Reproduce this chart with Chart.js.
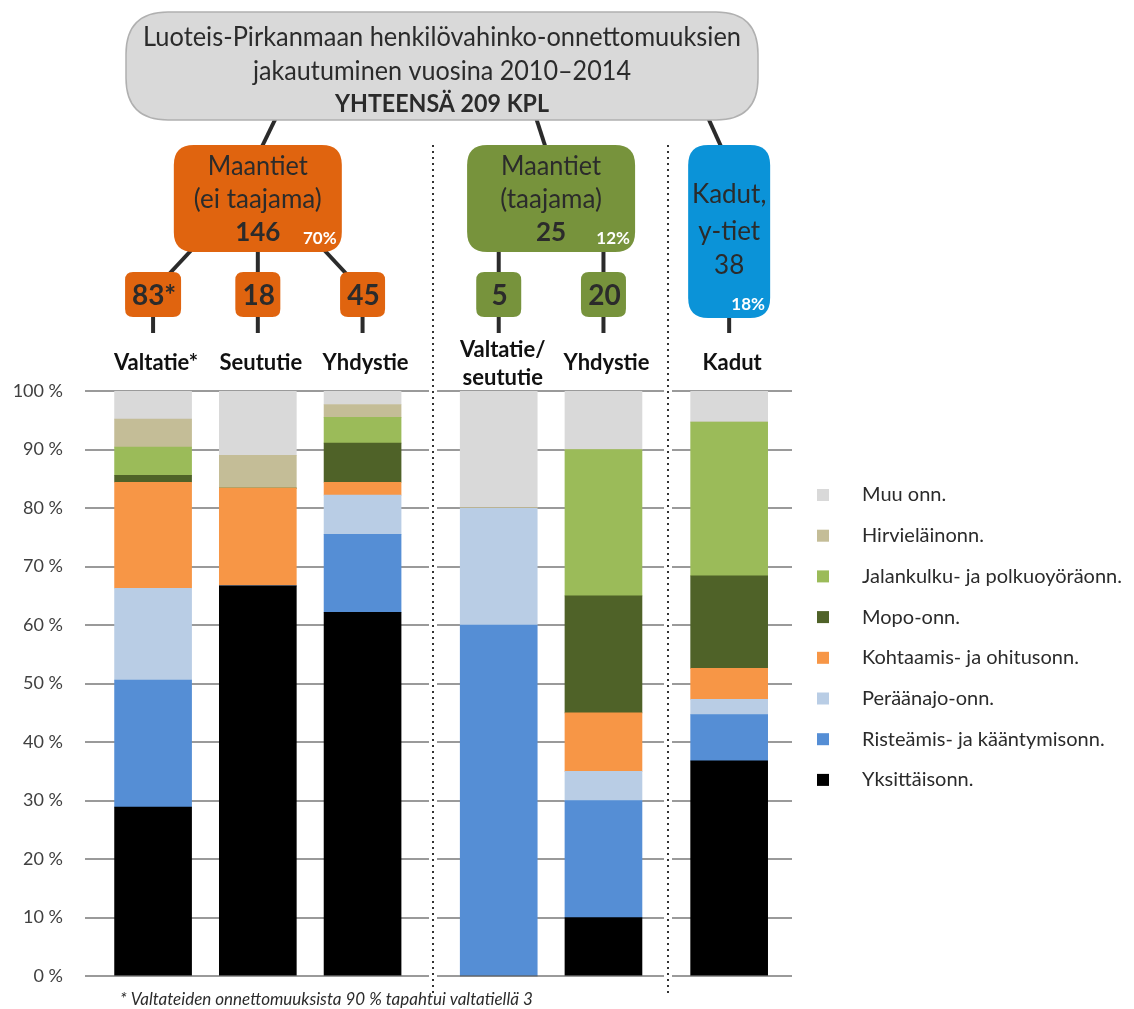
<!DOCTYPE html>
<html>
<head>
<meta charset="utf-8">
<script src="https://cdn.jsdelivr.net/npm/chart.js"></script>
<style>
  html, body { margin: 0; padding: 0; background: #fff; }
  #wrap { width: 1134px; height: 1009px; }
</style>
</head>
<body>
<div id="wrap"><canvas id="myChart" width="1134" height="1009"></canvas></div>
<script>
// road types (bars) and the group each belongs to
const roads = ["Valtatie*", "Seututie", "Yhdystie", "Valtatie/\nseututie", "Yhdystie", "Kadut"];
const roadGroup = [0, 0, 0, 1, 1, 2];
const roadCounts = ["83*", "18", "45", "5", "20", null];

const groupNames = [["Maantiet", "(ei taajama)"], ["Maantiet", "(taajama)"], ["Kadut,", "y-tiet"]];
const groupTotals = ["146", "25", "38"];
const groupShares = ["70%", "12%", "18%"];

// share of accidents, % (bottom of stack first)
const yksittais  = [28.9, 66.7, 62.2, 0, 10, 36.8];
const risteamis  = [21.7, 0, 13.3, 60, 20, 7.9];
const peraanajo  = [15.7, 0, 6.7, 20, 5, 2.6];
const kohtaamis  = [18.1, 16.7, 2.2, 0, 10, 5.3];
const mopo       = [1.2, 0, 6.7, 0, 20, 15.8];
const jalankulku = [4.8, 0, 4.4, 0, 25, 26.3];
const hirvi      = [4.8, 5.6, 2.2, 0, 0, 0];
const muu        = [4.8, 11.0, 2.3, 20, 10, 5.3];

const yTicks = [0, 10, 20, 30, 40, 50, 60, 70, 80, 90, 100];

const title = ["Luoteis-Pirkanmaan henkilövahinko-onnettomuuksien", "jakautuminen vuosina 2010–2014", "YHTEENSÄ 209 KPL"];
const footnote = "* Valtateiden onnettomuuksista 90 % tapahtui valtatiellä 3";

// extra space in front of each group, in bar slots
const GROUP_SHIFT = [0, 0.3, 0.5];
const groupColors = ["#E0640F", "#77933C", "#0B93D8"];
const FONT = "Lato, 'Open Sans', sans-serif";
const TXT = "#2b2b2b";

const series = [
  { label: "Yksittäisonn.", data: yksittais, color: "#000000" },
  { label: "Risteämis- ja kääntymisonn.", data: risteamis, color: "#558ED5" },
  { label: "Peräänajo-onn.", data: peraanajo, color: "#B9CDE5" },
  { label: "Kohtaamis- ja ohitusonn.", data: kohtaamis, color: "#F79646" },
  { label: "Mopo-onn.", data: mopo, color: "#4F6228" },
  { label: "Jalankulku- ja polkuoyöräonn.", data: jalankulku, color: "#9BBB59" },
  { label: "Hirvieläinonn.", data: hirvi, color: "#C4BD97" },
  { label: "Muu onn.", data: muu, color: "#D9D9D9" },
];

const slot = roads.map((r, i) => i + GROUP_SHIFT[roadGroup[i]]);

const roundRect = (ctx, x, y, w, h, r) => {
  ctx.beginPath();
  ctx.moveTo(x + r, y);
  ctx.lineTo(x + w - r, y);
  ctx.quadraticCurveTo(x + w, y, x + w, y + r);
  ctx.lineTo(x + w, y + h - r);
  ctx.quadraticCurveTo(x + w, y + h, x + w - r, y + h);
  ctx.lineTo(x + r, y + h);
  ctx.quadraticCurveTo(x, y + h, x, y + h - r);
  ctx.lineTo(x, y + r);
  ctx.quadraticCurveTo(x, y, x + r, y);
  ctx.closePath();
};

const text = (ctx, s, x, y, font, color, align, maxW) => {
  ctx.font = font;
  ctx.fillStyle = color;
  ctx.textAlign = align || "center";
  ctx.textBaseline = "middle";
  if (maxW) ctx.fillText(s, x, y, maxW);
  else ctx.fillText(s, x, y);
};

const line = (ctx, x1, y1, x2, y2) => {
  ctx.beginPath();
  ctx.moveTo(x1, y1);
  ctx.lineTo(x2, y2);
  ctx.stroke();
};

const treePlugin = {
  id: "tree",
  afterDraw(chart) {
    const ctx = chart.ctx;
    const xs = chart.scales.x;
    const area = chart.chartArea;
    const cx = slot.map((s) => xs.getPixelForValue(s));
    ctx.save();

    // dotted separators between groups
    for (let i = 1; i < roads.length; i++) {
      if (roadGroup[i] === roadGroup[i - 1]) continue;
      const x = Math.round((cx[i] + cx[i - 1]) / 2) + 2;
      ctx.fillStyle = "#fff";
      ctx.fillRect(x - 4, area.top - 2, 8, area.bottom - area.top + 4);
      ctx.strokeStyle = "#333";
      ctx.lineWidth = 2;
      ctx.setLineDash([2, 4]);
      line(ctx, x, 145, x, 994);
      ctx.setLineDash([]);
    }

    // group boxes
    const boxTop = 145;
    const groups = groupNames.map((g, gi) => {
      const idx = roads.map((r, i) => i).filter((i) => roadGroup[i] === gi);
      const mid = (cx[idx[0]] + cx[idx[idx.length - 1]]) / 2;
      const single = idx.length === 1;
      const w = single ? 82 : 168;
      const h = single ? 173 : 107;
      return { idx, mid, x: mid - w / 2, w, h, single };
    });

    ctx.strokeStyle = "#2b2b2b";
    ctx.lineWidth = 4;
    ctx.lineCap = "butt";
    // lines from the title box
    const topOff = [[18, 3], [-15, -5], [-21, -7]];
    groups.forEach((g, gi) => {
      line(ctx, g.mid + topOff[gi][0], 118, g.mid + topOff[gi][1], boxTop + 4);
    });

    // lines from group boxes to road boxes and to road labels
    groups.forEach((g) => {
      const bottom = boxTop + g.h;
      g.idx.forEach((i) => {
        const sx = cx[i];
        if (g.single) {
          line(ctx, sx, bottom - 4, sx, 333);
          return;
        }
        if (sx > g.x + 10 && sx < g.x + g.w - 10) {
          line(ctx, sx, bottom - 4, sx, 276);
        } else {
          const x1 = g.mid + 0.65 * (sx - g.mid);
          const x2 = sx - 0.17 * (sx - g.mid);
          const dx = (x2 - x1) / 21;
          line(ctx, x1 - dx * 3, bottom - 3, x2 + dx * 3, 275);
        }
        line(ctx, sx, 314, sx, 333);
      });
    });

    // title box
    roundRect(ctx, 126, 12, 632, 108, 42);
    ctx.fillStyle = "#D9D9D9";
    ctx.fill();
    ctx.strokeStyle = "#B0B0B0";
    ctx.lineWidth = 1.5;
    ctx.stroke();
    text(ctx, title[0], 442, 38, "26px " + FONT, TXT, "center", 598);
    text(ctx, title[1], 442, 72, "26px " + FONT, TXT, "center", 378);
    text(ctx, title[2], 442, 104, "bold 25px " + FONT, TXT, "center", 214);

    groups.forEach((g, gi) => {
      roundRect(ctx, g.x, boxTop, g.w, g.h, 20);
      ctx.fillStyle = groupColors[gi];
      ctx.fill();
      if (g.single) {
        text(ctx, groupNames[gi][0], g.mid, boxTop + 50, "26px " + FONT, TXT, "center", 76);
        text(ctx, groupNames[gi][1], g.mid, boxTop + 87, "26px " + FONT, TXT, "center", 68);
        text(ctx, groupTotals[gi], g.mid, boxTop + 121, "26px " + FONT, TXT);
      } else {
        text(ctx, groupNames[gi][0], g.mid, boxTop + 22, "26px " + FONT, TXT, "center", 100);
        text(ctx, groupNames[gi][1], g.mid, boxTop + 55, "26px " + FONT, TXT, "center", 134);
        text(ctx, groupTotals[gi], g.mid, boxTop + 88, "bold 26px " + FONT, TXT);
      }
      text(ctx, groupShares[gi], g.x + g.w - 22, boxTop + g.h - 13, "bold 17px " + FONT, "#fff");

      if (!g.single) {
        g.idx.forEach((i) => {
          const w = roadCounts[i].length > 2 ? 56 : 45;
          roundRect(ctx, cx[i] - w / 2, 272, w, 45, 8);
          ctx.fillStyle = groupColors[gi];
          ctx.fill();
          text(ctx, roadCounts[i], cx[i] + 1, 296, "bold 28px " + FONT, TXT, "center", w - 8);
        });
      }
    });

    // road labels
    roads.forEach((r, i) => {
      const parts = r.split("\n");
      if (parts.length === 1) {
        text(ctx, r, cx[i] + 3, 363, "bold 22px " + FONT, "#111", "center", 90);
      } else {
        text(ctx, parts[0], cx[i] + 4, 350, "bold 22px " + FONT, "#111", "center", 90);
        text(ctx, parts[1], cx[i] + 4, 378, "bold 22px " + FONT, "#111", "center", 88);
      }
    });

    // legend, top item = top of stack
    const legend = series.slice().reverse();
    legend.forEach((s, k) => {
      const y = 495 + k * 40.7;
      ctx.fillStyle = s.color;
      ctx.fillRect(817, y - 6, 12, 12);
      text(ctx, s.label, 862, y, "20px " + FONT, TXT, "left", 264);
    });

    // footnote
    text(ctx, footnote, 120, 1000, "italic 17px " + FONT, TXT, "left", 418);
    ctx.restore();
  },
};

const ctx = document.getElementById("myChart");
const chart = new Chart(ctx, {
  type: "bar",
  data: {
    datasets: series.map((s) => ({
      label: s.label,
      data: s.data.map((v, i) => ({ x: slot[i], y: v })),
      backgroundColor: s.color,
      borderWidth: 0,
      barThickness: 77,
    })),
  },
  options: {
    responsive: false,
    devicePixelRatio: 1,
    animation: false,
    layout: { padding: { top: 391, right: 342, bottom: 23, left: 0 } },
    plugins: { legend: { display: false }, tooltip: { enabled: false } },
    scales: {
      x: {
        type: "linear",
        min: -0.65,
        max: 6.1,
        offset: false,
        stacked: true,
        display: false,
      },
      y: {
        stacked: true,
        min: 0,
        max: 100,
        afterFit: (axis) => { axis.width = 85; },
        afterBuildTicks: (axis) => { axis.ticks = yTicks.map((v) => ({ value: v })); },
        border: { display: false },
        grid: { color: "#9a9a9a", lineWidth: 2, drawTicks: false },
        ticks: {
          padding: 22,
          color: "#404040",
          font: { family: FONT, size: 18 },
          callback: (v) => v + " %",
        },
      },
    },
  },
  plugins: [treePlugin],
});
</script>
</body>
</html>
